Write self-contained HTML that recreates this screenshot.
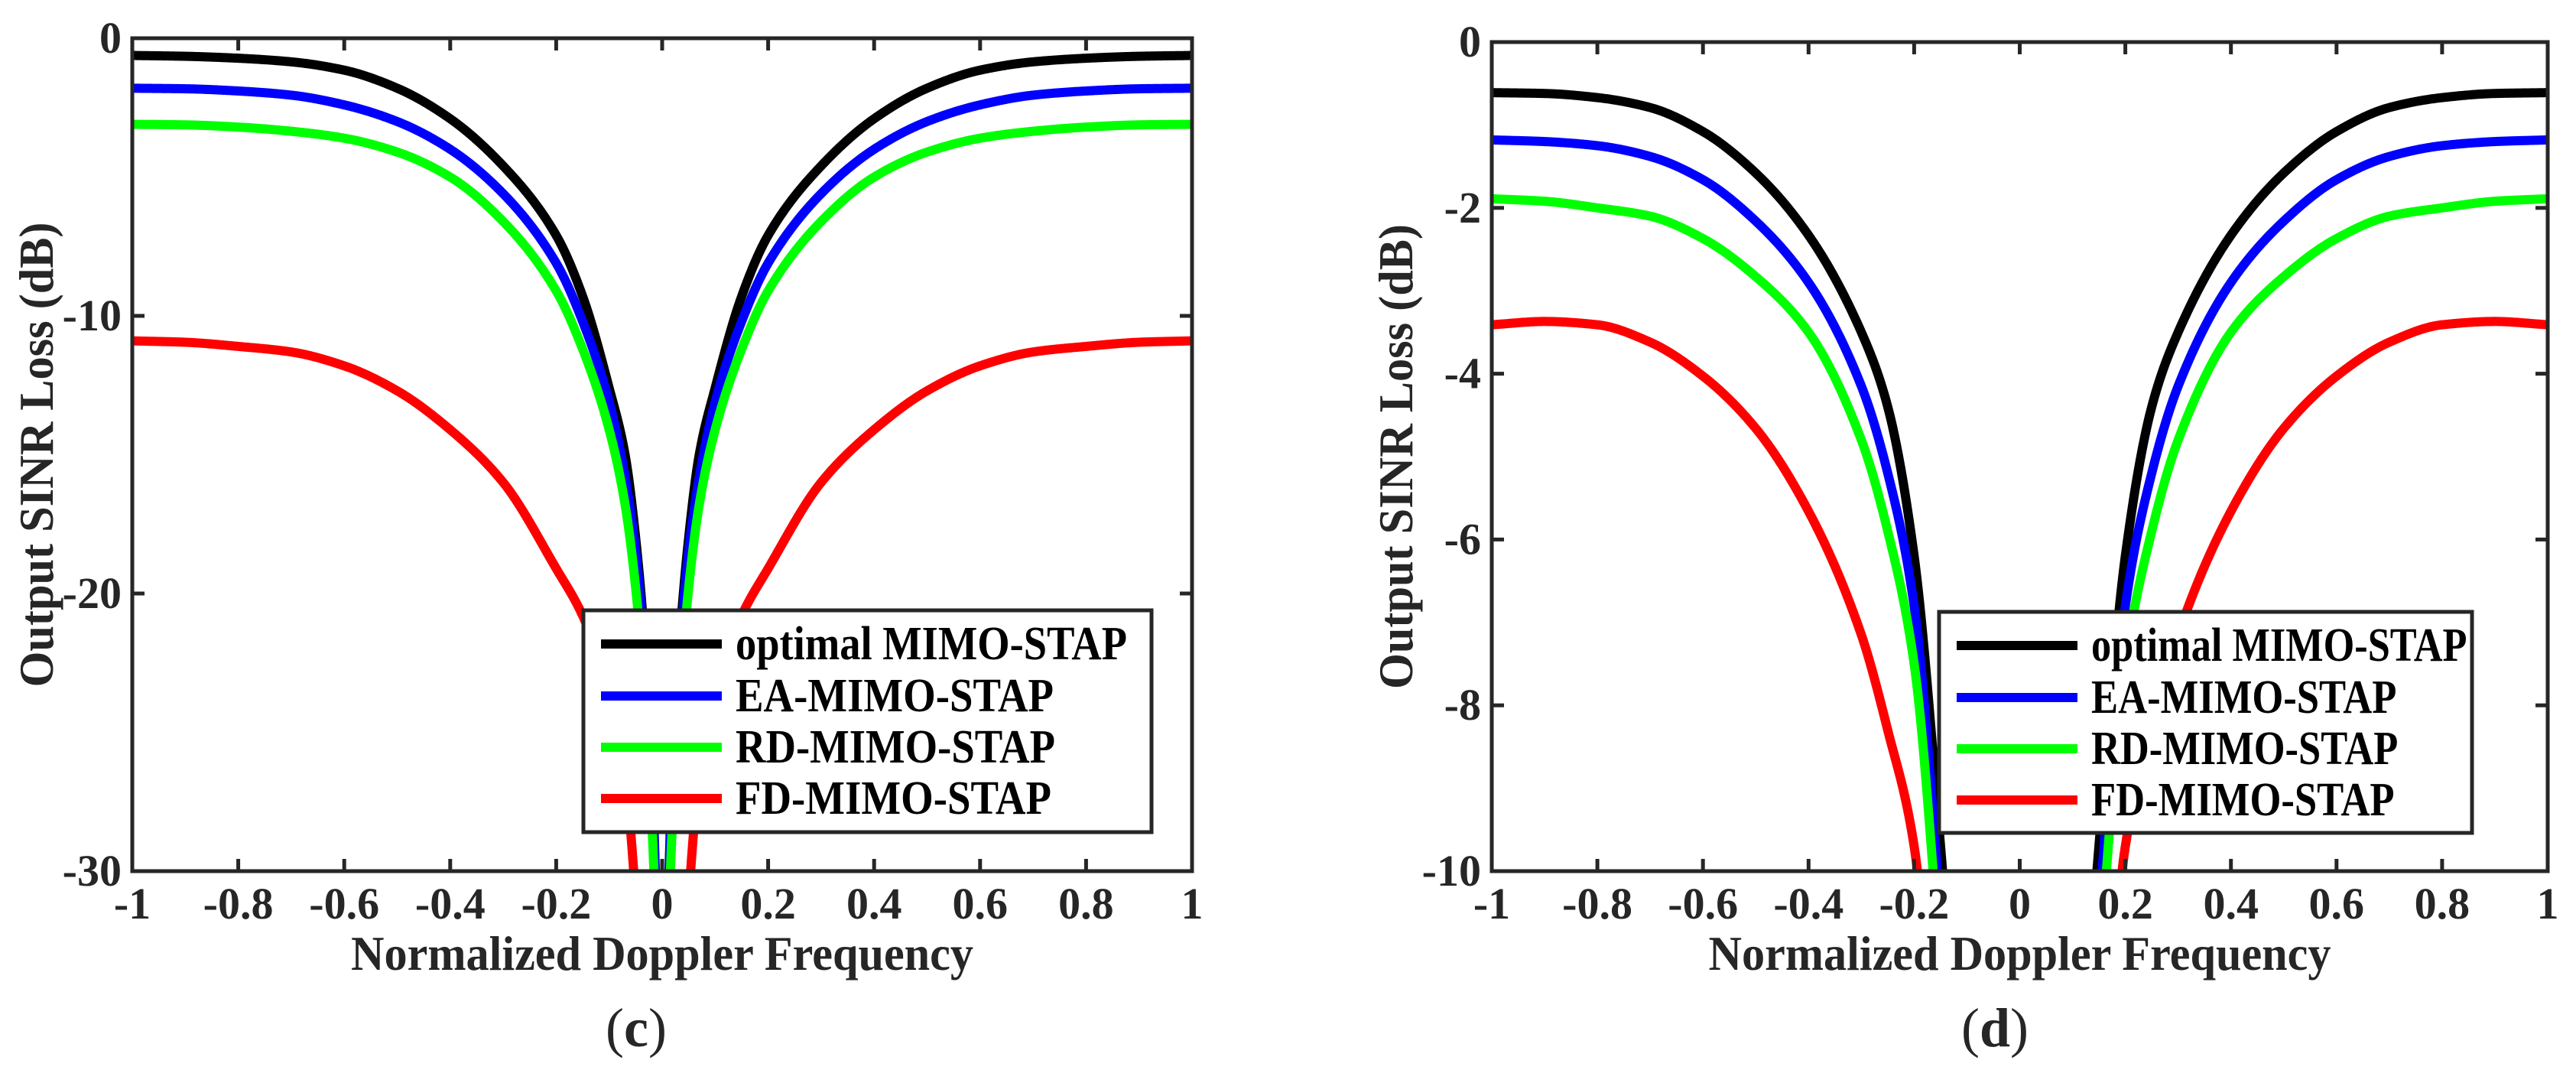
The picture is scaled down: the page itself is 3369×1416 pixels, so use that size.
<!DOCTYPE html>
<html><head><meta charset="utf-8"><style>
html,body{margin:0;padding:0;background:#fff;width:3369px;height:1416px;overflow:hidden}
svg{display:block}
text{font-family:"Liberation Serif",serif;font-weight:bold;fill:#262626}
</style></head><body>
<svg id="fig" width="3369" height="1416" viewBox="0 0 3369 1416" xmlns="http://www.w3.org/2000/svg"></svg>
<script>
const seriesNames = ["optimal MIMO-STAP","EA-MIMO-STAP","RD-MIMO-STAP","FD-MIMO-STAP"];
const seriesColors = ["#000000","#0000ff","#00ff00","#ff0000"];
const xTicks = [-1,-0.8,-0.6,-0.4,-0.2,0,0.2,0.4,0.6,0.8,1];
const xTickLabels = ["-1","-0.8","-0.6","-0.4","-0.2","0","0.2","0.4","0.6","0.8","1"];
// Panel (c): half-axis x (mirrored)
const cX = [0,0.01,0.02,0.03,0.05,0.07,0.1,0.15,0.2,0.3,0.4,0.5,0.6,0.7,0.8,0.9,1];
const cBlack = [-40,-32,-26,-22.5,-18,-15,-12.6,-9.3,-7.1,-4.6,-2.9,-1.8,-1.15,-0.85,-0.72,-0.65,-0.62];
const cBlue  = [-40,-32,-26.5,-23,-18.5,-15.8,-13.1,-10.2,-8.1,-5.6,-4.0,-3.0,-2.4,-2.05,-1.9,-1.82,-1.8];
const cGreen = [-40,-33,-28,-24.5,-19.8,-16.8,-14.1,-11.2,-9.1,-6.6,-5.0,-4.1,-3.6,-3.35,-3.2,-3.12,-3.1];
const cRed   = [-40,-40,-40,-38,-31,-26.5,-23.5,-20.8,-19.1,-16.0,-14.1,-12.7,-11.8,-11.3,-11.1,-10.95,-10.9];
const cYTicks = [-30,-20,-10,0];
const cYTickLabels = ["-30","-20","-10","0"];
// Panel (d)
const dX = [0,0.1,0.15,0.2,0.25,0.3,0.4,0.5,0.6,0.7,0.8,0.9,1];
const dBlack = [-25,-14,-9.7,-6.2,-4.4,-3.5,-2.33,-1.58,-1.08,-0.79,-0.67,-0.62,-0.61];
const dBlue  = [-25,-15,-10.5,-6.8,-5.2,-4.15,-2.9,-2.16,-1.66,-1.38,-1.25,-1.2,-1.18];
const dGreen = [-25,-16,-11.2,-7.5,-5.9,-4.8,-3.5,-2.83,-2.37,-2.1,-2.0,-1.92,-1.89];
const dRed   = [-25,-18,-13.5,-9.7,-8.3,-7.15,-5.66,-4.66,-4.03,-3.62,-3.41,-3.37,-3.41];
const dYTicks = [-10,-8,-6,-4,-2,0];
const dYTickLabels = ["-10","-8","-6","-4","-2","0"];
const legendTextWidths = [512,416,418,413];

const NS="http://www.w3.org/2000/svg";
const svg=document.getElementById('fig');
function mk(tag,attrs,parent){const e=document.createElementNS(NS,tag);for(const k in attrs)e.setAttribute(k,attrs[k]);(parent||svg).appendChild(e);return e;}

// monotone cubic interpolation (Fritsch-Carlson) in data space
function monotone(xs,ys){
  const n=xs.length,h=[],d=[],m=new Array(n);
  for(let i=0;i<n-1;i++){h.push(xs[i+1]-xs[i]);d.push((ys[i+1]-ys[i])/h[i]);}
  m[0]=d[0];m[n-1]=d[n-2];
  for(let i=1;i<n-1;i++){
    if(d[i-1]*d[i]<=0)m[i]=0;
    else{const w1=2*h[i]+h[i-1],w2=h[i]+2*h[i-1];m[i]=(w1+w2)/(w1/d[i-1]+w2/d[i]);}
  }
  return function(x){
    let i=0;while(i<n-2&&x>xs[i+1])i++;
    const t=(x-xs[i])/h[i],t2=t*t,t3=t2*t;
    return (2*t3-3*t2+1)*ys[i]+(t3-2*t2+t)*h[i]*m[i]+(-2*t3+3*t2)*ys[i+1]+(t3-t2)*h[i]*m[i+1];
  };
}

function panel(o){
  const g=mk('g',{});
  
  
  const sx=v=>o.L+(v-(-1))/2*(o.R-o.L);
  const sy=v=>o.T+(o.ymax-v)/(o.ymax-o.ymin)*(o.B-o.T);
  const cp=mk('clipPath',{id:'clip-'+o.id},g);
  mk('rect',{x:o.L,y:o.T,width:o.R-o.L,height:o.B-o.T},cp);
  const sg=mk('g',{'clip-path':'url(#clip-'+o.id+')'},g);
  o.series.forEach((vals,si)=>{
    const f=monotone(o.xs,vals);
    [-1,1].forEach(sgn=>{
      let d="";
      const N=400;
      for(let k=0;k<=N;k++){
        const ax=k/N;
        const x=sgn*ax;
        d+=(k?"L":"M")+sx(x).toFixed(2)+","+sy(f(ax)).toFixed(2);
      }
      const path=mk('path',{d:d,fill:'none',stroke:seriesColors[si],'stroke-width':12,'stroke-linejoin':'round'},sg);
      
      
    });
  });
  const fr=mk('rect',{x:o.L,y:o.T,width:o.R-o.L,height:o.B-o.T,fill:'none',stroke:'#262626','stroke-width':5},g);
  
  
  const tl=16;
  xTicks.forEach((v,i)=>{
    const x=sx(v);
    mk('line',{x1:x,y1:o.B,x2:x,y2:o.B-tl,stroke:'#262626','stroke-width':5},g);
    mk('line',{x1:x,y1:o.T,x2:x,y2:o.T+tl,stroke:'#262626','stroke-width':5},g);
    const t=mk('text',{x:x,y:o.B+62,'text-anchor':'middle','font-size':58},g);
    t.textContent=xTickLabels[i];
    
    
  });
  o.yt.forEach((v,i)=>{
    const y=sy(v);
    mk('line',{x1:o.L,y1:y,x2:o.L+tl,y2:y,stroke:'#262626','stroke-width':5},g);
    mk('line',{x1:o.R,y1:y,x2:o.R-tl,y2:y,stroke:'#262626','stroke-width':5},g);
    const t=mk('text',{x:o.L-14,y:y+19,'text-anchor':'end','font-size':58},g);
    t.textContent=o.ytl[i];
    
    
  });
  const xt=mk('text',{x:(o.L+o.R)/2,y:1268,'text-anchor':'middle','font-size':64,textLength:814,lengthAdjust:'spacingAndGlyphs'},g);
  xt.textContent="Normalized Doppler Frequency";
  
  
  const yt=mk('text',{x:0,y:0,'text-anchor':'middle','font-size':64,textLength:608,lengthAdjust:'spacingAndGlyphs',transform:'translate('+(o.ytx+21)+','+((o.T+o.B)/2)+') rotate(-90)'},g);
  yt.textContent="Output SINR Loss (dB)";
  
  
  const cap=mk('text',{x:o.capx,y:1368,'text-anchor':'middle','font-size':72},g);
  cap.innerHTML='<tspan font-weight="normal">(</tspan>'+o.cap+'<tspan font-weight="normal">)</tspan>';
  
  
  const lg=mk('g',{},g);
  
  
  mk('rect',{x:o.lg[0],y:o.lg[1],width:o.lg[2]-o.lg[0],height:o.lg[3]-o.lg[1],fill:'#fff',stroke:'#262626','stroke-width':5},lg);
  const rows=[o.lg[1]+44,o.lg[1]+112,o.lg[1]+179,o.lg[1]+246];
  seriesNames.forEach((n,i)=>{
    const e=mk('g',{},lg);
    
    
    mk('line',{x1:o.lg[0]+23,y1:rows[i],x2:o.lg[0]+181,y2:rows[i],stroke:seriesColors[i],'stroke-width':12},e);
    const t=mk('text',{x:o.lg[0]+199,y:rows[i]+20,'font-size':62,textLength:legendTextWidths[i]*o.lgScale,lengthAdjust:'spacingAndGlyphs',style:'fill:#000'},e);
    t.textContent=n;
  });
}

panel({id:'panel-c',L:173,R:1559,T:50,B:1139,ymin:-30,ymax:0,xs:cX,series:[cBlack,cBlue,cGreen,cRed],yt:cYTicks,ytl:cYTickLabels,ytx:48,capx:832,cap:'c',lg:[763,798,1506,1088],lgScale:1});
panel({id:'panel-d',L:1951,R:3332,T:55,B:1139,ymin:-10,ymax:0,xs:dX,series:[dBlack,dBlue,dGreen,dRed],yt:dYTicks,ytl:dYTickLabels,ytx:1826,capx:2609,cap:'d',lg:[2536,800,3233,1089],lgScale:0.96});
</script>
</body></html>
